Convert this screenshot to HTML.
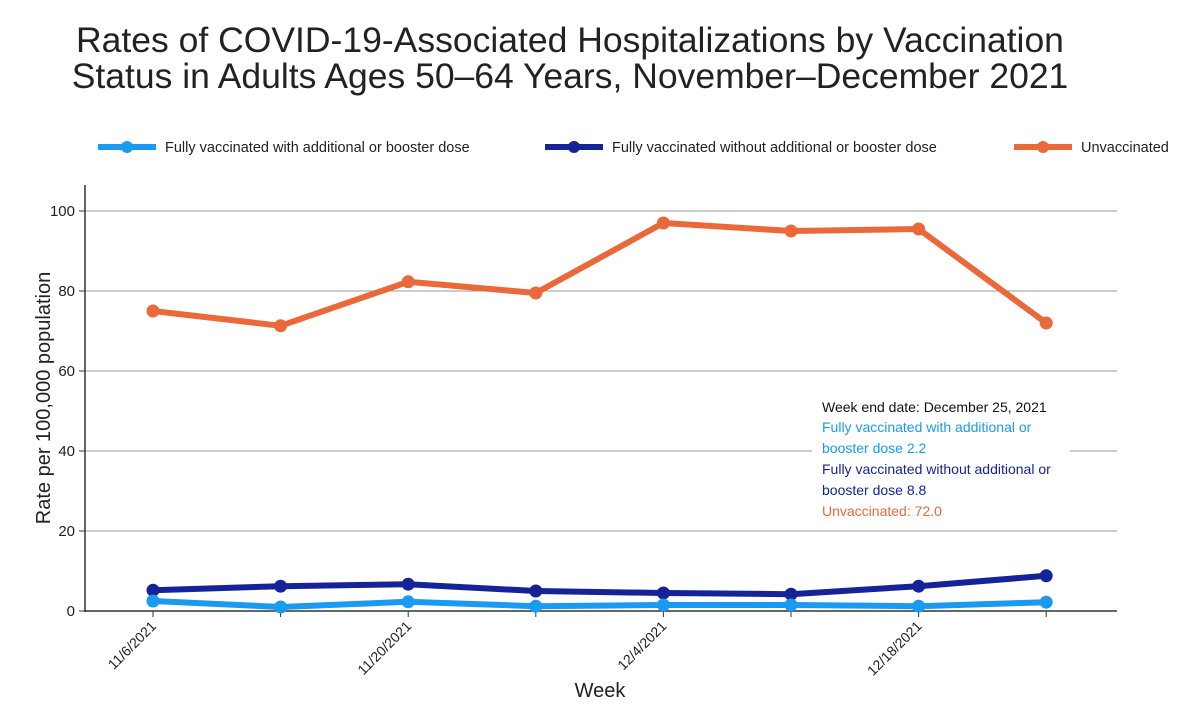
<!DOCTYPE html>
<html><head><meta charset="utf-8"><style>
body{margin:0;background:#fff;font-family:"Liberation Sans",sans-serif}
svg{display:block}
</style></head><body>
<svg width="1200" height="726" id="c">
<text x="570" y="52" text-anchor="middle" font-size="35.5" fill="#222">Rates of COVID-19-Associated Hospitalizations by Vaccination</text>
<text x="570" y="88" text-anchor="middle" font-size="35.5" fill="#222">Status in Adults Ages 50–64 Years, November–December 2021</text>
<g font-size="14.5" fill="#222">
<g><line x1="98" y1="147" x2="156" y2="147" stroke="#1a9af0" stroke-width="6"/><circle cx="127" cy="147" r="6" fill="#1a9af0"/><text x="165" y="152">Fully vaccinated with additional or booster dose</text></g>
<g><line x1="545" y1="147" x2="603" y2="147" stroke="#162398" stroke-width="6"/><circle cx="574" cy="147" r="6" fill="#162398"/><text x="612" y="152">Fully vaccinated without additional or booster dose</text></g>
<g><line x1="1014" y1="147" x2="1072" y2="147" stroke="#e9693a" stroke-width="6"/><circle cx="1043" cy="147" r="6" fill="#e9693a"/><text x="1081" y="152">Unvaccinated</text></g>
</g>
<g id="grid"></g><g id="axes"></g><g id="series"></g>
<text transform="translate(50,398) rotate(-90)" text-anchor="middle" font-size="20" fill="#222">Rate per 100,000 population</text>
<text x="600" y="697" text-anchor="middle" font-size="20" fill="#222">Week</text>
<g>
<rect x="812" y="392" width="258" height="130" fill="#fff" opacity="0.97"/>
<text x="822" y="412" font-size="14" fill="#111">Week end date: December 25, 2021</text>
<text x="822" y="432" font-size="14" fill="#1a9af0">Fully vaccinated with additional or</text>
<text x="822" y="453" font-size="14" fill="#1a9af0">booster dose 2.2</text>
<text x="822" y="474" font-size="14" fill="#162398">Fully vaccinated without additional or</text>
<text x="822" y="495" font-size="14" fill="#162398">booster dose 8.8</text>
<text x="822" y="516" font-size="14" fill="#e9693a">Unvaccinated: 72.0</text>
</g>
</svg>
<script>
const categories=["11/6/2021","11/13/2021","11/20/2021","11/27/2021","12/4/2021","12/11/2021","12/18/2021","12/25/2021"];
const booster=[2.5,1.0,2.3,1.2,1.5,1.5,1.2,2.2];
const noBooster=[5.2,6.2,6.7,5.0,4.5,4.2,6.2,8.8];
const unvaccinated=[75.0,71.3,82.3,79.5,97.0,95.0,95.5,72.0];
const yTicks=[0,20,40,60,80,100];
const NS="http://www.w3.org/2000/svg";
const x0=153,dx=127.6,yb=611,ys=4;
const X=i=>x0+i*dx, Y=v=>yb-v*ys;
function mk(t,a,p){const e=document.createElementNS(NS,t);for(const k in a)e.setAttribute(k,a[k]);p.appendChild(e);return e;}
const grid=document.getElementById('grid'),axes=document.getElementById('axes'),ser=document.getElementById('series');
yTicks.forEach(v=>{
 if(v>0){const g=mk('line',{x1:85,x2:1117,y1:Y(v),y2:Y(v),stroke:'#999','stroke-width':1},grid);
 
 }
 mk('line',{x1:79,x2:85,y1:Y(v),y2:Y(v),stroke:'#333'},axes);
 const t=mk('text',{x:75,y:Y(v)+5,'text-anchor':'end','font-size':15,fill:'#222'},axes);t.textContent=v;
 
 
});
mk('line',{x1:85,x2:85,y1:185,y2:612,stroke:'#333','stroke-width':1.5},axes);
mk('line',{x1:84,x2:1117,y1:yb,y2:yb,stroke:'#333','stroke-width':1.5},axes);
categories.forEach((c,i)=>{
 mk('line',{x1:X(i),x2:X(i),y1:yb,y2:yb+6,stroke:'#333'},axes);
 if(i%2===0){const t=mk('text',{transform:`translate(${X(i)+4},${yb+16}) rotate(-45)`,'text-anchor':'end','font-size':14,fill:'#222'},axes);t.textContent=c;
 
 }
});
function draw(vals,col,name){
 const g=mk('g',{},ser);
 
 
 mk('polyline',{points:vals.map((v,i)=>X(i)+','+Y(v)).join(' '),fill:'none',stroke:col,'stroke-width':6,'stroke-linejoin':'round'},g);
 vals.forEach((v,i)=>{const p=mk('circle',{cx:X(i),cy:Y(v),r:6.5,fill:col},g);
 
 });
}
draw(unvaccinated,'#e9693a','unvaccinated');
draw(noBooster,'#162398','no-booster');
draw(booster,'#1a9af0','booster');
</script>
</body></html>
